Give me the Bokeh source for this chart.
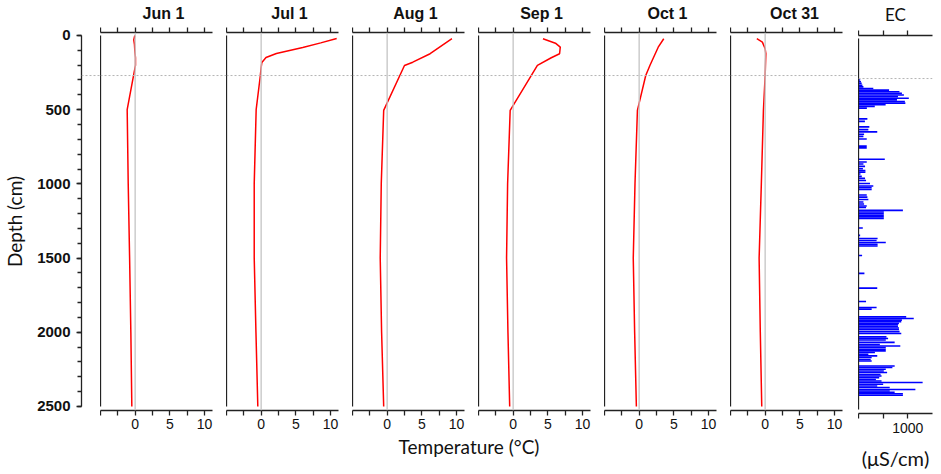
from bokeh.plotting import figure
from bokeh.models import Range1d, LinearAxis, FixedTicker, Span, ColumnDataSource, Label
from bokeh.layouts import row, column
from bokeh.embed import file_html
from bokeh.resources import INLINE

# ---------------- data ----------------
panel_titles = ["Jun 1", "Jul 1", "Aug 1", "Sep 1", "Oct 1", "Oct 31"]

jun_depth = [0, 30, 60, 100, 150, 200, 500, 1000, 1500, 2000, 2500]
jun_temp = [-0.05, -0.2, -0.1, -0.05, 0.05, 0.05, -1.15, -1.0, -0.8, -0.62, -0.48]

jul_depth = [20, 50, 81, 121, 148, 182, 216, 283, 500, 1000, 1500, 2000, 2500]
jul_temp = [10.9, 8.6, 6.0, 2.2, 0.7, 0.1, 0.0, -0.15, -0.72, -1.0, -1.0, -0.75, -0.48]

aug_depth = [22, 123, 180, 202, 505, 1000, 1500, 2000, 2500]
aug_temp = [9.35, 6.2, 3.7, 2.5, -0.5, -0.85, -1.0, -0.8, -0.5]

sep_depth = [22, 52, 79, 123, 150, 202, 505, 1000, 1500, 2000, 2500]
sep_temp = [4.3, 6.1, 6.8, 6.7, 5.5, 3.5, -0.43, -0.8, -0.95, -0.75, -0.5]

oct1_depth = [22, 79, 202, 270, 505, 1000, 1500, 2000, 2500]
oct1_temp = [3.55, 2.75, 1.55, 0.95, -0.25, -0.6, -0.85, -0.65, -0.4]

oct31_depth = [22, 45, 90, 123, 272, 505, 1000, 1500, 2000, 2500]
oct31_temp = [-1.2, -0.4, 0.0, 0.1, 0.0, -0.25, -0.55, -0.87, -0.7, -0.49]

profiles = [(jun_depth, jun_temp), (jul_depth, jul_temp), (aug_depth, aug_temp),
            (sep_depth, sep_temp), (oct1_depth, oct1_temp), (oct31_depth, oct31_temp)]

ec_depth = [280, 292, 303, 315, 326, 337, 348, 359, 370, 381, 392, 403, 414, 425, 436, 447, 458, 469,
            542, 559, 596, 614, 629, 645, 660, 677, 725, 737,
            814, 832, 846, 862, 878, 890, 901, 913, 929, 943, 957, 977, 994, 1005, 1018,
            1055, 1069, 1085, 1102, 1115, 1129, 1139, 1158, 1169, 1180, 1191, 1202, 1213,
            1277, 1327, 1348, 1361, 1375, 1387, 1398, 1462, 1583, 1682, 1772, 1813, 1824,
            1876, 1887, 1898, 1909, 1920, 1929, 1940, 1951, 1961, 1975, 1988,
            2011, 2022, 2032, 2048, 2062, 2072, 2082, 2094, 2105, 2116, 2128, 2139, 2150, 2163, 2173,
            2207, 2217, 2229, 2241, 2251, 2264, 2274, 2285, 2298, 2308, 2318, 2330, 2342, 2352,
            2365, 2375, 2385, 2394, 2404]
ec_value = [35, 50, 65, 80, 100, 300, 620, 830, 880, 920, 800, 1020, 780, 940, 950, 550, 330, 170,
            180, 130, 220, 200, 380, 113, 100, 167, 167, 167,
            533, 167, 100, 133, 90, 140, 140, 40, 67, 133, 153, 233, 300, 267, 267,
            167, 180, 200, 100, 113, 167, 153, 900, 513, 513, 513, 513, 513,
            87, 33, 387, 367, 553, 387, 387, 73, 120, 380, 153, 367, 267,
            967, 1120, 880, 867, 820, 800, 800, 820, 820, 833, 867,
            567, 600, 553, 733, 433, 847, 553, 553, 553, 333, 200, 380, 267, 247, 267,
            733, 687, 553, 513, 580, 447, 467, 420, 353, 467, 1300, 500, 380, 633,
            1153, 633, 733, 900, 900]

depth_ticks = [0, 500, 1000, 1500, 2000, 2500]
depth_minor = list(range(0, 2501, 100))
temp_ticks = [0, 5, 10]
temp_minor = [-5, -2.5, 2.5, 7.5]
temp_top_ticks = [-5, -2.5, 0, 2.5, 5, 7.5, 10]
ec_ticks = [1000]
ec_minor = [0, 500]
ec_top_ticks = [0, 500, 1000]
active_layer_depth = 270
x_title = "Temperature (°C)"

# ---------------- styling ----------------
TICKF = "Liberation Sans"
LABF = "Lato"
AXC = "#222222"
TXC = "#111111"
FRAME_H = 378
TOP_B = 32
BOT_B = 24
PX_PER_DEG = 6.93

yr = Range1d(start=2527, end=-20)


def base_fig(fw, xr, bl=0, br=0, bt=TOP_B, bb=BOT_B):
    p = figure(frame_width=fw, frame_height=FRAME_H, x_range=xr, y_range=yr,
               output_backend="svg", toolbar_location=None,
               x_axis_location=None, y_axis_location=None,
               min_border_left=bl, min_border_right=br,
               min_border_top=bt, min_border_bottom=bb)
    p.grid.visible = False
    p.outline_line_color = None
    return p


def add_active_layer(p):
    p.add_layout(Span(location=active_layer_depth, dimension="width", line_color="#b4b4b4",
                      line_width=1, line_dash="2 2"))


def style_axis(ax, tick_out=5):
    ax.axis_line_color = AXC
    ax.axis_line_width = 1.3
    ax.major_tick_line_color = AXC
    ax.minor_tick_line_color = AXC
    ax.major_tick_line_width = 1.3
    ax.minor_tick_line_width = 1.3
    ax.major_tick_in = 0
    ax.minor_tick_in = 0
    ax.major_tick_out = tick_out
    ax.minor_tick_out = tick_out


def line_axis(p):
    ax = LinearAxis(ticker=FixedTicker(ticks=[]), bounds=(0, 2500))
    ax.axis_line_color = AXC
    ax.axis_line_width = 1.3
    ax.major_tick_out = 0
    ax.minor_tick_out = 0
    ax.major_tick_in = 0
    ax.minor_tick_in = 0
    ax.major_label_standoff = 0
    ax.axis_label_standoff = 0
    p.add_layout(ax, "left")


def top_axis(p, ticks, bounds, title, font, style, size):
    top = LinearAxis(ticker=FixedTicker(ticks=[], minor_ticks=ticks), bounds=bounds)
    style_axis(top)
    top.major_label_standoff = 0
    top.axis_label = title
    top.axis_label_text_font = font
    top.axis_label_text_font_style = style
    top.axis_label_text_font_size = size
    top.axis_label_text_color = TXC
    top.axis_label_standoff = 6
    p.add_layout(top, "above")


# depth axis figure
fig0 = base_fig(19, Range1d(0, 1), bl=78)
add_active_layer(fig0)
dax = LinearAxis(ticker=FixedTicker(ticks=depth_ticks, minor_ticks=depth_minor), bounds=(0, 2500))
style_axis(dax, 4)
dax.major_tick_out = 5
dax.major_label_text_font = TICKF
dax.major_label_text_font_style = "bold"
dax.major_label_text_font_size = "15px"
dax.major_label_text_color = TXC
dax.major_label_standoff = 6
dax.axis_label = "Depth (cm)"
dax.axis_label_text_font = LABF
dax.axis_label_text_font_style = "normal"
dax.axis_label_text_font_size = "19px"
dax.axis_label_text_color = TXC
dax.axis_label_standoff = 8
fig0.add_layout(dax, "left")

panels = []
for i, (title, (dep, tmp)) in enumerate(zip(panel_titles, profiles)):
    fw = 128 if i == 5 else 126
    p = base_fig(fw, Range1d(-5, -5 + fw / PX_PER_DEG))
    top_axis(p, temp_top_ticks, (-5, 11.16), title, TICKF, "bold", "16px")
    bot = LinearAxis(ticker=FixedTicker(ticks=temp_ticks, minor_ticks=temp_minor), bounds=(-5, 11.16))
    style_axis(bot)
    bot.major_label_text_font = TICKF
    bot.major_label_text_font_size = "14px"
    bot.major_label_text_color = TXC
    bot.major_label_standoff = 3
    p.add_layout(bot, "below")
    line_axis(p)
    add_active_layer(p)
    p.add_layout(Span(location=0, dimension="height", line_color="#c4c4c4", line_width=1.3))
    src = ColumnDataSource(dict(depth=dep, temp=tmp))
    p.line(x="temp", y="depth", source=src, line_color="#ff0000", line_width=1.5)
    panels.append(p)

# label strip for the Temperature title
ROW_W = 78 + 19 + 126 * 5 + 128
label_fig = figure(frame_width=ROW_W, frame_height=36, x_range=Range1d(0, ROW_W), y_range=Range1d(0, 1),
                   output_backend="svg", toolbar_location=None,
                   x_axis_location=None, y_axis_location=None,
                   min_border_left=0, min_border_right=0, min_border_top=0, min_border_bottom=0)
label_fig.grid.visible = False
label_fig.outline_line_color = None
label_fig.add_layout(Label(x=(97 + 840) / 2, y=0.67, text=x_title, text_align="center",
                           text_baseline="middle", text_font=LABF, text_font_size="19px",
                           text_color=TXC))

# EC panel
EC_FW = 74
ec = base_fig(EC_FW, Range1d(0, 1500), br=12, bb=59)
top_axis(ec, ec_top_ticks, (0, 1500), "EC", LABF, "normal", "17px")
ebot = LinearAxis(ticker=FixedTicker(ticks=ec_ticks, minor_ticks=ec_minor), bounds=(0, 1500))
style_axis(ebot)
ebot.major_label_text_font = TICKF
ebot.major_label_text_font_size = "14px"
ebot.major_label_text_color = TXC
ebot.major_label_standoff = 4
ebot.axis_label = "(μS/cm)"
ebot.axis_label_text_font = LABF
ebot.axis_label_text_font_style = "normal"
ebot.axis_label_text_font_size = "20px"
ebot.axis_label_text_color = TXC
ebot.axis_label_standoff = 10
ec.add_layout(ebot, "below")
line_axis(ec)
add_active_layer(ec)
src_ec = ColumnDataSource(dict(depth=ec_depth, value=ec_value))
ec.hbar(y="depth", left=0, right="value", height=11, source=src_ec,
        fill_color="#0000ff", line_color=None)

layout = row(column(row(fig0, *panels), label_fig), ec)

open("out.html", "w").write(file_html(layout, INLINE))
